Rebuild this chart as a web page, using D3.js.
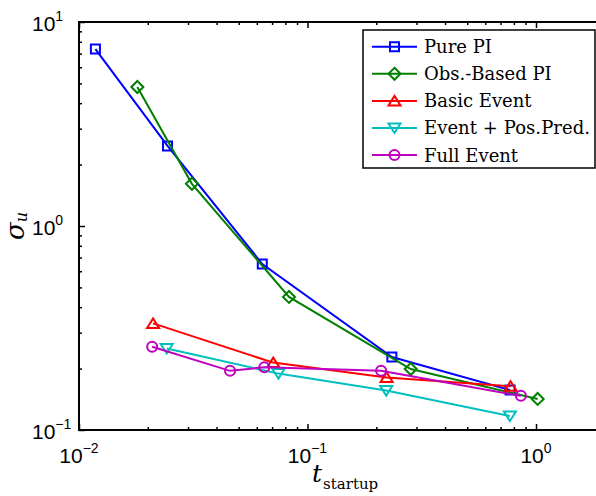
<!DOCTYPE html>
<html>
<head>
<meta charset="utf-8">
<script src="https://cdn.jsdelivr.net/npm/d3@7"></script>
<style>
  body { margin: 0; background: #fff; }
  svg { display: block; }
</style>
</head>
<body>
<div id="root"></div>
<script>
// values (log-log)
var names = ['Pure PI', 'Obs.-Based PI', 'Basic Event', 'Event + Pos.Pred.', 'Full Event'];
var colors = ['#0000ff', '#008000', '#ff0000', '#00bfbf', '#bf00bf'];
var markers = ['square', 'diamond', 'triUp', 'triDown', 'circle'];

var xPure = [0.0118, 0.0244, 0.0634, 0.234, 0.77];
var yPure = [7.37, 2.47, 0.651, 0.228, 0.157];
var xObs = [0.0180, 0.0312, 0.083, 0.283, 1.017];
var yObs = [4.80, 1.61, 0.449, 0.199, 0.142];
var xBasic = [0.0211, 0.0708, 0.222, 0.774];
var yBasic = [0.333, 0.214, 0.181, 0.164];
var xPred = [0.0242, 0.0746, 0.221, 0.769];
var yPred = [0.251, 0.189, 0.156, 0.117];
var xFull = [0.0209, 0.0458, 0.0647, 0.210, 0.859];
var yFull = [0.256, 0.195, 0.203, 0.195, 0.147];

var xMajor = [0.01, 0.1, 1];
var yMajor = [0.1, 1, 10];
var xMinor = [0.02, 0.03, 0.04, 0.05, 0.06, 0.07, 0.08, 0.09, 0.2, 0.3, 0.4, 0.5, 0.6, 0.7, 0.8, 0.9];
var yMinor = [0.2, 0.3, 0.4, 0.5, 0.6, 0.7, 0.8, 0.9, 2, 3, 4, 5, 6, 7, 8, 9];
var xExp = ['\u22122', '\u22121', '0'];
var yExp = ['\u22121', '0', '1'];

var series = [
  { x: xPure, y: yPure },
  { x: xObs, y: yObs },
  { x: xBasic, y: yBasic },
  { x: xPred, y: yPred },
  { x: xFull, y: yFull }
];

var w = 596, h = 496;
var pLeft = 79, pTop = 22, pBottom = 430, decade = 228.5;
var svg = d3.select('#root').append('svg').attr('width', w).attr('height', h);

var x = d3.scaleLog().domain([0.01, 2]).range([pLeft, pLeft + decade * Math.log10(200)]);
var y = d3.scaleLog().domain([0.1, 10]).range([pBottom, pTop]);
var pRight = x(2);

function markerPath(type) {
  if (type == 'square') return 'M-4.5,-4.5H4.5V4.5H-4.5Z';
  if (type == 'diamond') return 'M0,-6L6,0L0,6L-6,0Z';
  if (type == 'triUp') return 'M0,-5L6,4.5L-6,4.5Z';
  if (type == 'triDown') return 'M0,5L6,-4.5L-6,-4.5Z';
  return 'M5,0A5,5 0 1,1 -5,0A5,5 0 1,1 5,0Z';
}

// ticks (inside, matlab style)
function tickAxis(axis, tr) {
  var g = svg.append('g').attr('transform', tr).call(axis);
  g.select('.domain').remove();
  g.selectAll('line').attr('stroke', '#000').attr('stroke-width', 1.5);
  return g;
}
tickAxis(d3.axisBottom(x).tickValues(xMajor).tickSize(-6).tickFormat(''), 'translate(0,' + pBottom + ')');
tickAxis(d3.axisBottom(x).tickValues(xMinor).tickSize(-3).tickFormat(''), 'translate(0,' + pBottom + ')');
tickAxis(d3.axisTop(x).tickValues(xMajor).tickSize(-6).tickFormat(''), 'translate(0,' + pTop + ')');
tickAxis(d3.axisTop(x).tickValues(xMinor).tickSize(-3).tickFormat(''), 'translate(0,' + pTop + ')');
tickAxis(d3.axisLeft(y).tickValues(yMajor).tickSize(-6).tickFormat(''), 'translate(' + pLeft + ',0)');
tickAxis(d3.axisLeft(y).tickValues(yMinor).tickSize(-3).tickFormat(''), 'translate(' + pLeft + ',0)');

svg.append('rect')
  .attr('x', pLeft).attr('y', pTop)
  .attr('width', pRight - pLeft).attr('height', pBottom - pTop)
  .attr('fill', 'none').attr('stroke', '#000').attr('stroke-width', 2);

// tick labels with superscripts
var xl = svg.append('g').selectAll('text').data(xMajor).enter().append('text')
  .attr('x', function (d) { return x(d); })
  .attr('y', 463)
  .attr('text-anchor', 'middle')
  .attr('font-family', 'Liberation Sans, Arial, sans-serif')
  .attr('font-size', 21);
xl.append('tspan').text('10');
xl.append('tspan').attr('dy', -10).attr('font-size', 14).text(function (d, i) { return xExp[i]; });

var yl = svg.append('g').selectAll('text').data(yMajor).enter().append('text')
  .attr('x', 32)
  .attr('y', function (d) { return y(d) + 9; })
  .attr('font-family', 'Liberation Sans, Arial, sans-serif')
  .attr('font-size', 21);
yl.append('tspan').text('10');
yl.append('tspan').attr('dy', -10).attr('font-size', 14).text(function (d, i) { return yExp[i]; });

// series
var line = d3.line().x(function (d) { return x(d[0]); }).y(function (d) { return y(d[1]); });
series.forEach(function (s, i) {
  var pts = d3.zip(s.x, s.y);
  var g = svg.append('g');
  g.append('path').attr('d', line(pts))
    .attr('fill', 'none').attr('stroke', colors[i]).attr('stroke-width', 2);
  g.selectAll('path.m').data(pts).enter().append('path')
    .attr('class', 'm')
    .attr('transform', function (d) { return 'translate(' + x(d[0]) + ',' + y(d[1]) + ')'; })
    .attr('d', markerPath(markers[i]))
    .attr('fill', 'none').attr('stroke', colors[i]).attr('stroke-width', 2);
});

// axis titles
var yt = svg.append('text')
  .attr('transform', 'translate(24,226) rotate(-90)')
  .attr('text-anchor', 'middle')
  .attr('font-family', 'DejaVu Serif, serif');
yt.append('tspan').attr('font-style', 'italic').attr('font-size', 26).text('\u03c3');
yt.append('tspan').attr('font-style', 'italic').attr('font-size', 16).attr('dy', 3).text('u');

var xt = svg.append('text')
  .attr('x', 312).attr('y', 482)
  .attr('font-family', 'DejaVu Serif, serif');
xt.append('tspan').attr('font-style', 'italic').attr('font-size', 25).text('t');
xt.append('tspan').attr('font-size', 15).attr('dy', 7).attr('dx', 1).text('startup');

// legend
var leg = svg.append('g');
leg.append('rect').attr('x', 363).attr('y', 30).attr('width', 232).attr('height', 138)
  .attr('fill', '#fff').attr('stroke', '#000').attr('stroke-width', 1.5);
var items = leg.selectAll('g.item').data(names).enter().append('g')
  .attr('class', 'item')
  .attr('transform', function (d, i) { return 'translate(0,' + (46.7 + i * 27.1) + ')'; });
items.append('line').attr('x1', 372).attr('x2', 417)
  .attr('stroke', function (d, i) { return colors[i]; }).attr('stroke-width', 2);
items.append('path').attr('transform', 'translate(394.5,0)')
  .attr('d', function (d, i) { return markerPath(markers[i]); })
  .attr('fill', 'none').attr('stroke', function (d, i) { return colors[i]; }).attr('stroke-width', 2);
items.append('text').attr('x', 424).attr('dy', '0.36em')
  .attr('font-family', 'DejaVu Serif, serif').attr('font-size', 18)
  .attr('textLength', function (d, i) { return i == 3 ? 166 : null; })
  .text(function (d) { return d; });
</script>
</body>
</html>
